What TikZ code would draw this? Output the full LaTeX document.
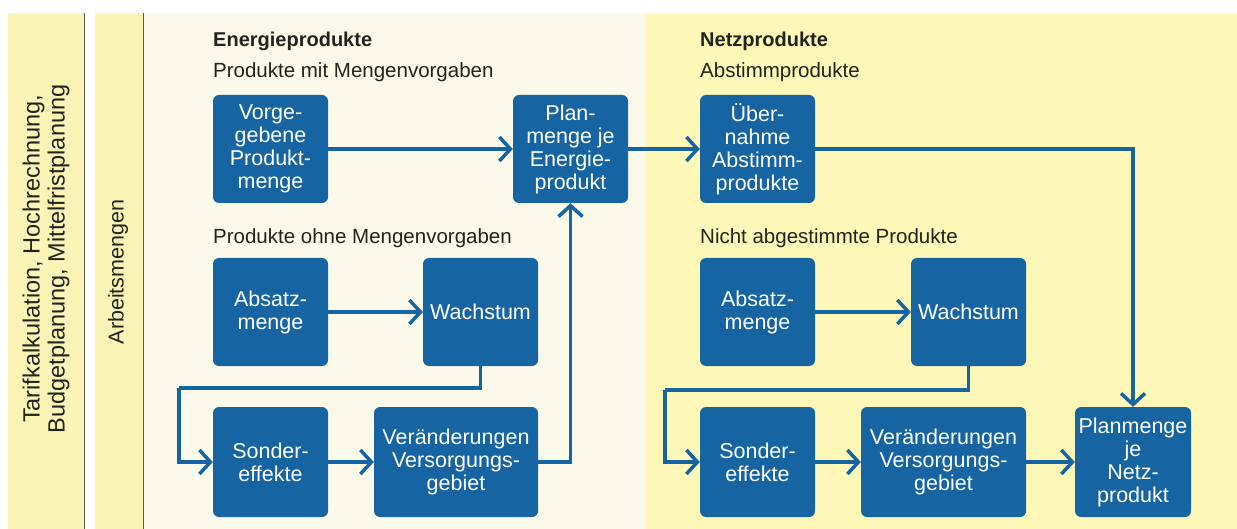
\documentclass[tikz,border=0pt]{standalone}
\usepackage{fontspec}
\setmainfont{Liberation Sans}
\usetikzlibrary{arrows.meta}
\definecolor{boxblue}{RGB}{22,101,162}
\definecolor{stripyellow}{RGB}{250,245,183}
\definecolor{rightyellow}{RGB}{253,247,184}
\definecolor{leftcream}{RGB}{251,250,234}
\definecolor{sepline}{RGB}{95,90,75}
\definecolor{headtext}{RGB}{35,35,30}
\tikzset{
  pbox/.style={fill=boxblue, rounded corners=6pt, text=white, align=center,
    inner sep=0pt, minimum width=115pt, minimum height=108pt,
    font=\fontsize{21.5}{23}\selectfont},
  widebox/.style={pbox, minimum width=165pt},
  flow/.style={draw=boxblue, line width=3.5pt, line join=miter,
    -{Straight Barb[length=11pt,width=24pt]}},
  plainflow/.style={draw=boxblue, line width=3.5pt, line join=miter},
  head/.style={anchor=base west, inner sep=0pt, text=headtext,
    font=\fontsize{20}{22}\selectfont\bfseries},
  sub/.style={anchor=base west, inner sep=0pt, text=headtext,
    font=\fontsize{20.5}{22}\selectfont},
  sidelabel/.style={rotate=90, align=center, inner sep=0pt, text=headtext}
}
\begin{document}
\begin{tikzpicture}[x=1pt,y=-1pt]
\useasboundingbox (0,0) rectangle (1237,529);
\fill[white] (0,0) rectangle (1237,529);
% background areas
\fill[stripyellow] (8,13) rectangle (84,529);
\fill[stripyellow] (95,13) rectangle (143,529);
\fill[leftcream] (144,13) rectangle (645,529);
\fill[rightyellow] (645,13) rectangle (1237,529);
\draw[sepline, line width=1.3pt] (84.5,13) -- (84.5,529);
\draw[sepline, line width=1.3pt] (143.5,13) -- (143.5,529);
% side labels
\node[sidelabel, font=\fontsize{23.5}{25}\selectfont] (plans) at (46,259)
  {Tarifkalkulation, Hochrechnung,\\Budgetplanung, Mittelfristplanung};
\node[sidelabel, font=\fontsize{21.5}{24}\selectfont] (arb) at (118,272) {Arbeitsmengen};
% headings
\node[head] (hE) at (213,47) {Energieprodukte};
\node[sub] (hEm) at (213,78) {Produkte mit Mengenvorgaben};
\node[sub] (hEo) at (213,244) {Produkte ohne Mengenvorgaben};
\node[head] (hN) at (700,47) {Netzprodukte};
\node[sub] (hNa) at (700,78) {Abstimmprodukte};
\node[sub] (hNn) at (700,244) {Nicht abgestimmte Produkte};
% boxes
\node[pbox] (vorg) at (270.5,149) {Vorge-\\gebene\\Produkt-\\menge};
\node[pbox] (plan) at (570.5,149) {Plan-\\menge je\\Energie-\\produkt};
\node[pbox] (ueber) at (757.5,149) {Über-\\nahme\\Abstimm-\\produkte};
\node[pbox] (absL) at (270.5,312) {Absatz-\\menge};
\node[pbox] (wachL) at (480.5,312) {Wachstum};
\node[pbox, minimum height=110pt] (sonL) at (270.5,462) {Sonder-\\effekte};
\node[widebox, minimum width=164pt, minimum height=110pt] (verL) at (456,462) {Veränderungen\\Versorgungs-\\gebiet};
\node[pbox] (absR) at (757.5,312) {Absatz-\\menge};
\node[pbox] (wachR) at (968.5,312) {Wachstum};
\node[pbox, minimum height=110pt] (sonR) at (757.5,462) {Sonder-\\effekte};
\node[widebox, minimum height=110pt] (verR) at (943.5,462) {Veränderungen\\Versorgungs-\\gebiet};
\node[pbox, minimum width=116pt, minimum height=110pt] (planR) at (1133,462) {Planmenge\\je\\Netz-\\produkt};
% bend points
\coordinate (kL) at (179,388);
\coordinate (kR) at (665,390);
% connectors
\draw[flow] (vorg.east) -- (plan.west);
\draw[flow] (plan.east) -- (ueber.west);
\draw[flow] (ueber.east) -| (planR.north);
\draw[flow] (absL.east) -- (wachL.west);
\draw[plainflow] (wachL.south) |- (kL);
\draw[flow] (kL) |- (sonL.west);
\draw[flow] (sonL.east) -- (verL.west);
\draw[flow] (verL.east) -| (plan.south);
\draw[flow] (absR.east) -- (wachR.west);
\draw[plainflow] (wachR.south) |- (kR);
\draw[flow] (kR) |- (sonR.west);
\draw[flow] (sonR.east) -- (verR.west);
\draw[flow] (verR.east) -- (planR.west);
\end{tikzpicture}
\end{document}
